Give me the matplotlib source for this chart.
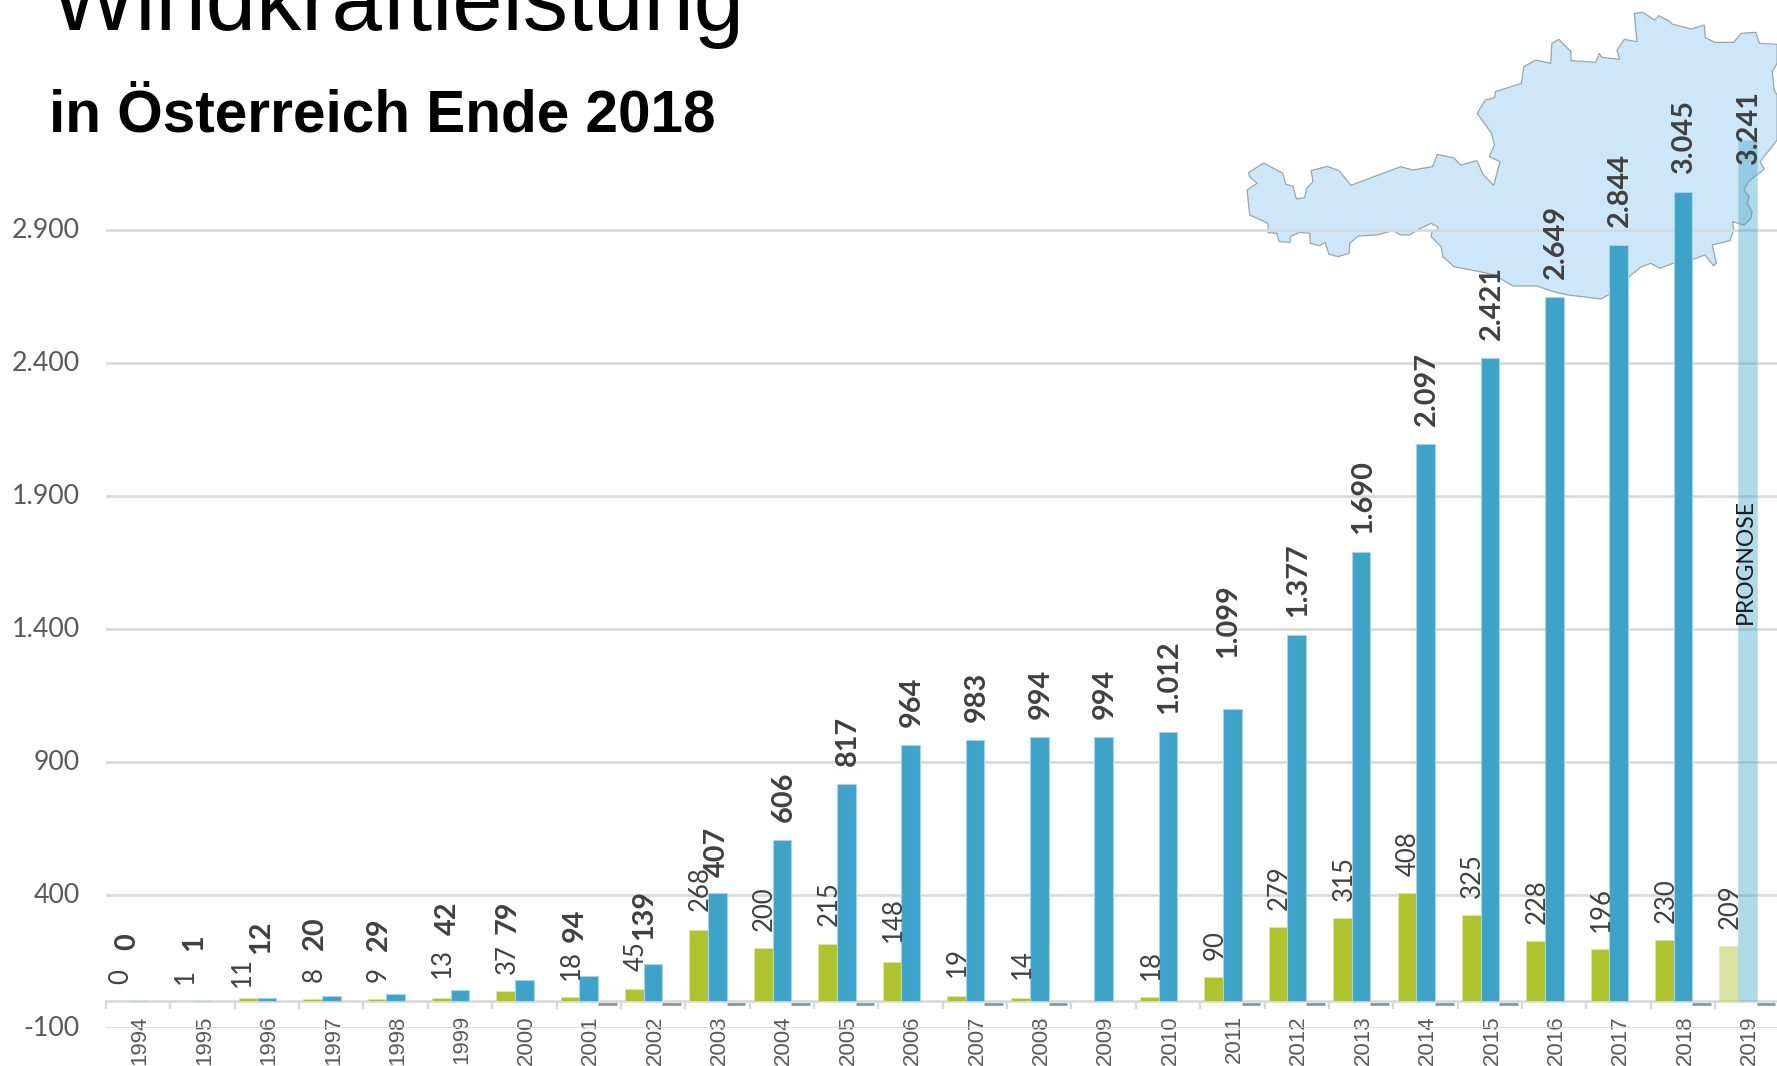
import matplotlib
matplotlib.use("Agg")
import matplotlib.pyplot as plt
from matplotlib.patches import Polygon
from matplotlib.transforms import Affine2D, ScaledTranslation
import numpy as np

anios = list(range(1994, 2020))
zubau = [0, 1, 11, 8, 9, 13, 37, 18, 45, 268, 200, 215, 148, 19, 14, 0, 18, 90, 279, 315, 408, 325, 228, 196, 230, 209]
leistung = [0, 1, 12, 20, 29, 42, 79, 94, 139, 407, 606, 817, 964, 983, 994, 994, 1012, 1099, 1377, 1690, 2097, 2421, 2649, 2844, 3045, 3241]
abbau = [None, None, None, None, None, None, None, -11, -11, -11, -11, -11, None, -11, -11, None, None, -11, -11, -11, -11, -11, None, None, -11, -11]
etiqueta_y = [-100, 400, 900, 1400, 1900, 2400, 2900]
etiqueta_y_txt = ["-100", "400", "900", "1.400", "1.900", "2.400", "2.900"]

# las etiquetas movidas a mano en el original: anio -> (dx, gap) en pixeles
ajuste_leistung = {
    1994: (-12, 51), 1995: (-10, 50), 1996: (-7, 44), 1997: (-18, 46), 1998: (-18, 43),
    1999: (-14, 55), 2000: (-18, 46), 2001: (-15, 34), 2002: (-10, 24), 2003: (-2, 16),
    2011: (-6, 51), 2019: (0, -25),
}
ajuste_zubau = {1996: (-7, 11), 1999: (0, 20), 2002: (0, 18), 2003: (0, 19), 2005: (0, 18), 2006: (0, 20), 2007: (0, 19), 2008: (0, 19)}

mapa_puntos = [
    (132, 518), (173, 489), (225, 520), (233, 553), (252, 558), (262, 597), (284, 593), (290, 565), (307, 545),
    (302, 512), (345, 499), (378, 512), (410, 556), (545, 500), (578, 510), (632, 500), (645, 463), (690, 474),
    (708, 495), (752, 482), (770, 525), (798, 556), (815, 485), (786, 470), (800, 435), (792, 400), (753, 340),
    (775, 300), (800, 293), (803, 275), (873, 250), (880, 200), (912, 180), (953, 190), (956, 130), (975, 118),
    (1008, 155), (1008, 182), (1075, 187), (1085, 160), (1092, 172), (1140, 178), (1133, 150), (1153, 118),
    (1187, 125), (1180, 40), (1203, 37), (1235, 60), (1247, 47), (1277, 65), (1282, 72), (1335, 87), (1370, 75),
    (1373, 113), (1398, 127), (1450, 127), (1470, 100), (1510, 97), (1520, 130), (1568, 133), (1568, 190),
    (1555, 215), (1560, 270), (1568, 285), (1568, 420), (1522, 485), (1533, 508), (1512, 525), (1490, 545),
    (1478, 570), (1492, 590), (1487, 610), (1500, 635), (1497, 655), (1478, 675), (1447, 665), (1450, 690),
    (1440, 722), (1392, 735), (1403, 790), (1395, 797), (1372, 765), (1335, 780), (1285, 790), (1250, 805),
    (1225, 790), (1200, 800), (1165, 830), (1162, 850), (1090, 897), (1000, 885), (960, 875), (915, 858),
    (850, 858), (800, 825), (760, 815), (690, 800), (660, 770), (655, 740), (628, 710), (630, 695), (648, 692),
    (645, 680), (628, 670), (590, 690), (570, 705), (545, 705), (525, 692), (480, 705), (430, 708), (407, 730),
    (405, 760), (375, 770), (350, 762), (340, 727), (325, 737), (300, 730), (298, 700), (270, 697), (245, 710),
    (245, 727), (215, 725), (208, 700), (185, 698), (185, 670), (135, 645), (128, 570), (155, 550), (135, 530),
]

gris = "#595959"
linea = "#d9d9d9"
verde = "#aec32e"
azul = "#3da3c8"
ancho = 0.29

fig = plt.figure(figsize=(17.77, 10.66), dpi=100)
ax = fig.add_axes([106 / 1777, (1066 - 1027.9) / 1066, 1 - 106 / 1777, 1 - (1066 - 1027.9) / 1066])
x = np.arange(len(anios))

# mapa de fondo en pixeles de la figura
pix = Affine2D().scale(1, -1).translate(0, 1066)
mapa = [(1200 + a / 2.717, b / 3) for a, b in mapa_puntos]
ax.add_patch(Polygon(mapa, closed=True, transform=pix, facecolor="#cde7f8", edgecolor="#9aa5ab", lw=0.9, zorder=0.2, clip_on=False))

barras_z = ax.bar(x - ancho, zubau, ancho, color=verde, edgecolor="#dbe5a0", lw=0.6, zorder=2)
barras_l = ax.bar(x, leistung, ancho, color=azul, edgecolor="#a5d6e8", lw=0.8, zorder=2)
# 2019 es prognose, mas transparente
barras_z[-1].set_alpha(0.45)
barras_l[-1].set_alpha(0.4)

for i, v in enumerate(abbau):
    if v is not None:
        ax.hlines(v, x[i] + ancho / 2, x[i] + 1.5 * ancho, color="#7f98a8", lw=2, zorder=2)

for i, anio in enumerate(anios):
    if zubau[i] > 0 or anio == 1994:
        dx, gap = ajuste_zubau.get(anio, (0, 17))
        ax.annotate(str(zubau[i]), (x[i] - ancho, zubau[i]), xytext=((dx + 1.5) * 0.72, gap * 0.72), textcoords="offset points",
                    rotation=90, ha="center", va="bottom", fontsize=18.5, family="Lato", color="#404040", zorder=4)
    dx, gap = ajuste_leistung.get(anio, (0, 18))
    txt = f"{leistung[i]:,}".replace(",", ".")
    ax.annotate(txt, (x[i], leistung[i]), xytext=((dx + 1.5) * 0.72, gap * 0.72), textcoords="offset points",
                rotation=90, ha="center", va="bottom", fontsize=20.8, family="Lato", fontweight="bold", color="#404040", zorder=4)

ax.text(x[-1] - 0.025, 1653, "PROGNOSE", rotation=90, ha="center", va="center", fontsize=16.5, family="Lato", color="#1a1a1a", zorder=4)

ax.set_xlim(-0.5 + 0.015, (1777 - 138.3) / 64.4 + 0.015)
ax.set_ylim(-100, 1001.3 / 0.2658)
ax.set_yticks(etiqueta_y, etiqueta_y_txt, fontsize=19.3, family="Lato", color=gris)
ax.set_axisbelow(True)
ax.grid(axis="y", color=linea, lw=1.9)
ax.tick_params(axis="y", length=0, pad=19)

for lado in ["top", "right", "left"]:
    ax.spines[lado].set_visible(False)
ax.spines["bottom"].set_position(("data", 0))
ax.spines["bottom"].set_color(linea)
ax.spines["bottom"].set_linewidth(1.9)
ax.spines["bottom"].set_zorder(1.9)
ax.set_xticks(x, [str(a) for a in anios], rotation=90, fontsize=16, family="Liberation Sans", color=gris)
ax.set_xticks(np.arange(len(anios)) - 0.5, minor=True)
ax.tick_params(axis="x", which="major", length=0, pad=10)
ax.tick_params(axis="x", which="minor", length=6, width=1.7, color=linea)

# etiquetas un poco corridas respecto a las lineas
for lab in ax.get_yticklabels():
    lab.set_transform(lab.get_transform() + ScaledTranslation(0, 2 / 100, fig.dpi_scale_trans))
for lab in ax.get_xticklabels():
    lab.set_transform(lab.get_transform() + ScaledTranslation(2 / 100, 0, fig.dpi_scale_trans))

fig.text(51 / 1777, (1066 - 30) / 1066, "Windkraftleistung", fontsize=65.2, family="Liberation Sans", color="black", va="baseline")
fig.text(49 / 1777, (1066 - 132) / 1066, "in Österreich Ende 2018", fontsize=42.15, family="Liberation Sans", fontweight="bold", color="black", va="baseline")

fig.savefig("out.png", dpi=100)
